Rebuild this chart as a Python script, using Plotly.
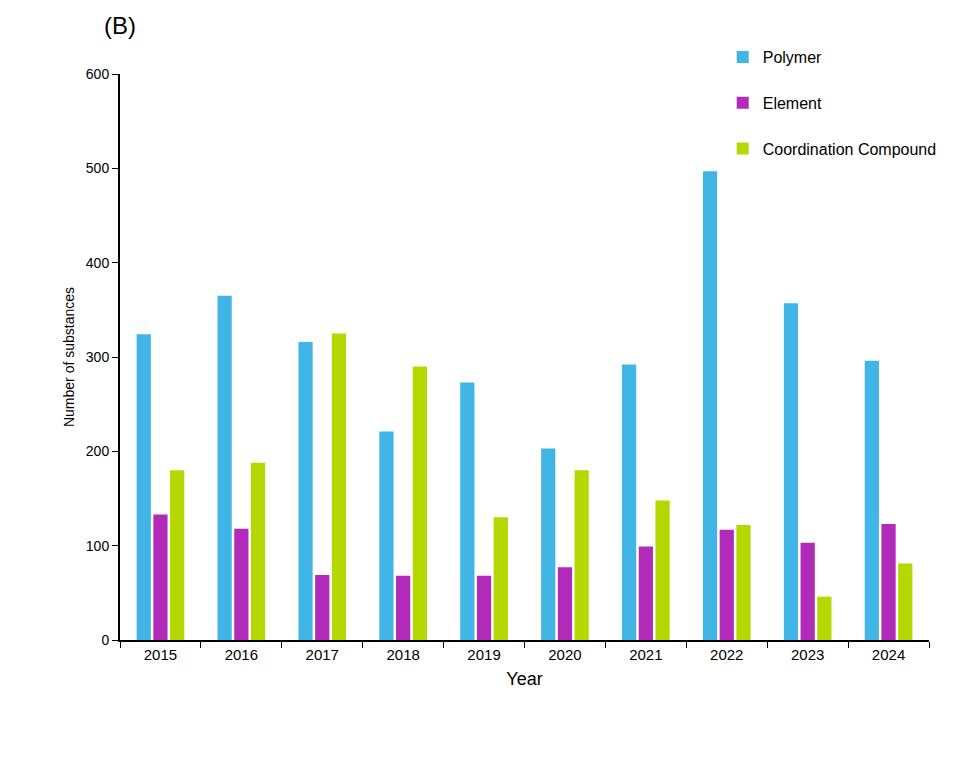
import plotly.graph_objs as go

years = ["2015", "2016", "2017", "2018", "2019", "2020", "2021", "2022", "2023", "2024"]
polymer = [324, 365, 316, 221, 273, 203, 292, 497, 357, 296]
element = [133, 118, 69, 68, 68, 77, 99, 117, 103, 123]
coordination = [180, 188, 325, 290, 130, 180, 148, 122, 46, 81]

fig = go.Figure()
for name, vals, col in [("Polymer", polymer, "#41b6e6"),
                        ("Element", element, "#b12aba"),
                        ("Coordination Compound", coordination, "#b5d800")]:
    fig.add_trace(go.Bar(x=years, y=vals, name=name, legendgroup=name,
                         marker=dict(color=col, line_width=0)))

fig.update_layout(
    width=955, height=770,
    paper_bgcolor="white", plot_bgcolor="white",
    font=dict(family="Liberation Sans, Arial", size=15, color="black"),
    margin=dict(l=112, r=34, t=66, b=138, autoexpand=False),
    barmode="group", bargap=0.38, bargroupgap=0.15,
    legend=dict(x=0.745, y=1.06, xanchor="left", yanchor="top",
                font=dict(size=16), tracegroupgap=22, itemwidth=30,
                bgcolor="rgba(0,0,0,0)"),
    annotations=[dict(text="(B)", x=0.0, y=1.085, xref="paper", yref="paper",
                      xanchor="center", yanchor="middle",
                      showarrow=False, font=dict(size=24))],
)
fig.update_xaxes(title=dict(text="Year", standoff=10), showline=True, linecolor="black",
                 linewidth=2, ticks="outside", tickson="boundaries", ticklen=6,
                 tickcolor="black", tickfont=dict(size=15))
fig.update_yaxes(title=dict(text="Number of substances", standoff=8, font=dict(size=14)),
                 range=[0, 600], dtick=100, showline=True, linecolor="black", linewidth=2,
                 ticks="outside", ticklen=6, tickcolor="black", showgrid=False, zeroline=False,
                 tickfont=dict(size=14))
fig.write_html("out.html")
